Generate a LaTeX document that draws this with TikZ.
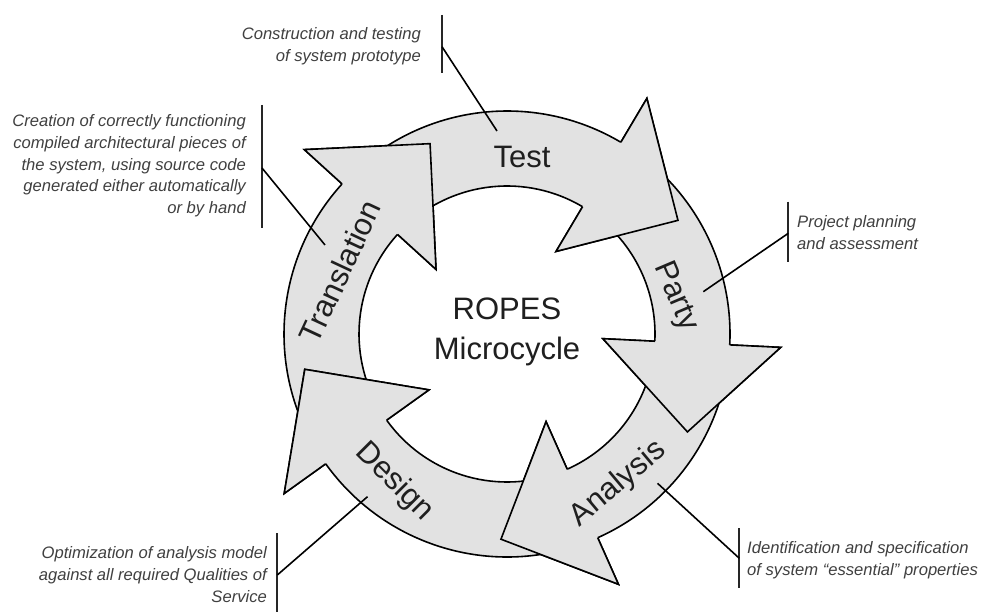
\documentclass[tikz,border=0pt]{standalone}
\usepackage{fontspec}
\setmainfont{Liberation Sans}
\definecolor{ringgray}{HTML}{E2E2E2}
\newcommand\ringarrow[2]{%
  \path[ring] (#1:223pt) arc[start angle=#1, end angle=#2, radius=223pt]
    -- (#2:274pt) -- ({#2-25.69}:205.3pt) -- (#2:96pt) -- (#2:148pt)
    arc[start angle=#2, end angle=#1, radius=148pt] -- cycle;}
\newcommand\ringhead[1]{%
  \fill[ringgray] (#1:223pt) -- (#1:274pt) -- ({#1-25.69}:205.3pt) -- (#1:96pt) -- (#1:148pt) -- cycle;
  \draw[headline] (#1:223pt) -- (#1:274pt) -- ({#1-25.69}:205.3pt) -- (#1:96pt) -- (#1:148pt);}
\begin{document}
\begin{tikzpicture}[x=1pt,y=1pt,
  ring/.style={fill=ringgray, draw=black, line width=1.6pt, line join=miter},
  headline/.style={draw=black, line width=1.6pt, line join=miter},
  lbl/.style={font=\fontsize{31}{37}\selectfont, text=black!88, inner sep=0pt, text height=22.2pt, text depth=0pt},
  centertext/.style={font=\fontsize{31}{40}\selectfont, text=black!88, inner sep=0pt, align=center},
  note/.style={font=\fontsize{16.6}{21.7}\selectfont\itshape, text=black!75, inner sep=0pt},
  bar/.style={line width=2.2pt, draw=black!85},
  leader/.style={line width=1.6pt, draw=black}]
\useasboundingbox (0,0) rectangle (981,612);
\fill[white] (0,0) rectangle (981,612);

\begin{scope}[shift={(507,278)}]
  % full arrows (shaft + head)
  \ringarrow{210.6}{137.7}% Translation
  \ringarrow{132.7}{59.3}% Test
  \ringarrow{54.3}{-2.8}% Party
  \ringarrow{-7.8}{-66}% Analysis
  \ringarrow{-71}{-144.4}% Design
  % heads on top of the following tails
  \ringhead{137.7}
  \ringhead{59.3}
  \ringhead{-2.8}
  \ringhead{-66}
  \ringhead{-144.4}
\end{scope}

% ring labels
\node[lbl] (ltest) at (522,455.5) {Test};
\node[lbl, rotate=65] (ltrans) at (340,340.5) {Translation};
\node[lbl, rotate=-67] (lparty) at (679,317) {Party};
\node[lbl, rotate=40] (lanal) at (616.5,130.5) {Analysis};
\node[lbl, rotate=-45] (ldesign) at (396.5,132) {Design};

\node[centertext, anchor=north] (center) at (507,314.5) {ROPES\\Microcycle};

% annotations
\node[note, align=right, anchor=north east] (ntest) at (421,584.6) {Construction and testing\\of system prototype};
\node[note, align=right, anchor=north east] (ntrans) at (246,497.6) {Creation of correctly functioning\\compiled architectural pieces of\\the system, using source code\\generated either automatically\\or by hand};
\node[note, align=left, anchor=north west] (nparty) at (797,396.6) {Project planning\\and assessment};
\node[note, align=left, anchor=north west] (nanal) at (747,70.6) {Identification and specification\\of system ``essential'' properties};
\node[note, align=right, anchor=north east] (ndesign) at (267,65.6) {Optimization of analysis model\\against all required Qualities of\\Service};

% bars
\coordinate (btestT) at (442,597); \coordinate (btestB) at (442,539);
\coordinate (btransT) at (262,507); \coordinate (btransB) at (262,384);
\coordinate (bpartyT) at (788.3,410.3); \coordinate (bpartyB) at (788.3,350.3);
\coordinate (banalT) at (739.3,83.7); \coordinate (banalB) at (739.3,23.7);
\coordinate (bdesT) at (277.3,78.7); \coordinate (bdesB) at (277.3,0);
\draw[bar] (btestT) -- (btestB);
\draw[bar] (btransT) -- (btransB);
\draw[bar] (bpartyT) -- (bpartyB);
\draw[bar] (banalT) -- (banalB);
\draw[bar] (bdesT) -- (bdesB);

% leaders
\coordinate (ktest) at (442,565.3); \coordinate (etest) at (497,481);
\coordinate (ktrans) at (262,444); \coordinate (etrans) at (325,367);
\coordinate (kparty) at (788.3,378.7); \coordinate (eparty) at (703.3,320.3);
\coordinate (kanal) at (739.3,53.7); \coordinate (eanal) at (657.5,128.7);
\coordinate (kdes) at (277.3,37); \coordinate (edes) at (367.5,115.3);
\draw[leader] (ktest) -- (etest);
\draw[leader] (ktrans) -- (etrans);
\draw[leader] (kparty) -- (eparty);
\draw[leader] (kanal) -- (eanal);
\draw[leader] (kdes) -- (edes);
\end{tikzpicture}
\end{document}
